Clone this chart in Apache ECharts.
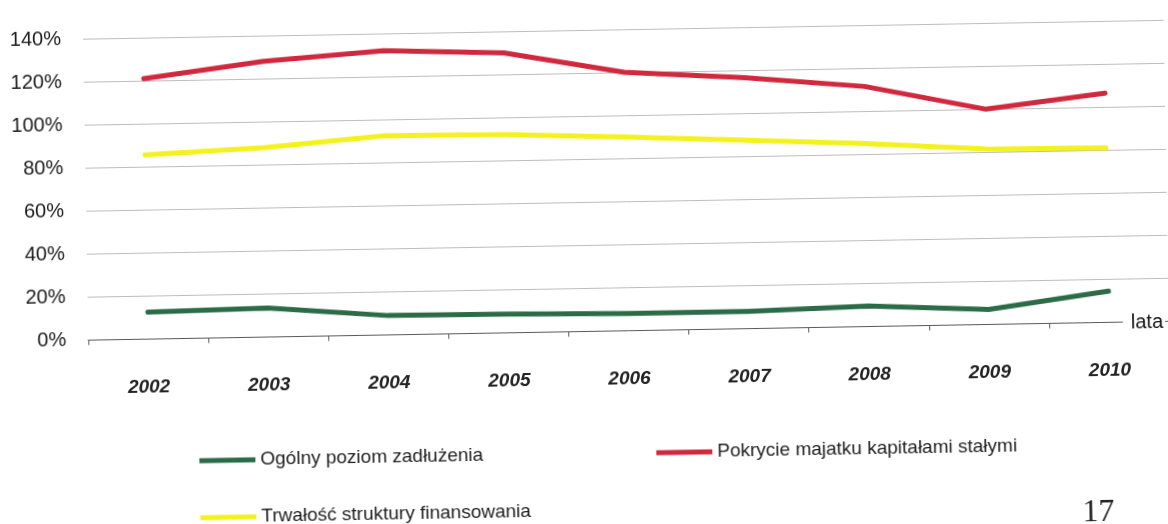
<!DOCTYPE html>
<html>
<head>
<meta charset="utf-8">
<script src="https://cdn.jsdelivr.net/npm/echarts@6/dist/echarts.min.js"></script>
<style>
  html, body { margin: 0; padding: 0; background: #fff; overflow: hidden; width: 1168px; height: 524px; }
  #chart { position: absolute; left: 0; top: 0; width: 1168px; height: 560px;
           transform-origin: 584px 262px; transform: rotate(-1deg); }
</style>
</head>
<body>
<div id="chart"></div>
<script>
// Years on the category axis
const years = ['2002', '2003', '2004', '2005', '2006', '2007', '2008', '2009', '2010'];

// Indicator values, in percent
const ogolnyPoziomZadluzenia = [12.5, 13.5, 9, 8.7, 8, 8, 9.5, 7, 14.5];
const pokrycieMajatku = [121, 128, 132, 130, 120, 116.5, 111.5, 100, 106.5];
const trwaloscStruktury = [85.5, 88, 92.5, 92, 90, 87.5, 85, 81.5, 81];

// Series names as shown in the legend
const names = [
  'Ogólny poziom zadłużenia',
  'Pokrycie majatku kapitałami stałymi',
  'Trwałość struktury finansowania'
];

// Value axis scale
const yMin = 0, yMax = 140, yStep = 20;

const FONT = '"Liberation Sans", Arial, sans-serif';
const colors = ['#2c6b48', '#d0283d', '#f3f11e'];

const chart = echarts.init(document.getElementById('chart'), null, { renderer: 'canvas' });

function lineSeries(name, data, color) {
  return {
    name, type: 'line', data,
    showSymbol: false, symbol: 'none',
    lineStyle: { color, width: 5, cap: 'round', join: 'round' },
    itemStyle: { color },
    emphasis: { disabled: true },
    animation: false
  };
}

function legendAt(name, left, top) {
  return {
    data: [name], left, top, padding: 0,
    icon: 'rect', itemWidth: 56, itemHeight: 5,
    textStyle: { fontFamily: FONT, fontSize: 19, color: '#1e1e1e', lineHeight: 20 },
    selectedMode: false
  };
}

chart.setOption({
  backgroundColor: '#fff',
  animation: false,
  grid: { left: 87, right: 0, top: 30, bottom: 228.5, containLabel: false },
  title: [{
    text: 'lata', right: 4, top: 321,
    padding: [1, 2, 1, 8], backgroundColor: '#fff',
    textStyle: { fontFamily: FONT, fontSize: 20, fontWeight: 'normal', color: '#151515' }
  }],
  legend: [
    legendAt(names[0], 196, 444),
    legendAt(names[1], 653, 444),
    legendAt(names[2], 196, 501)
  ],
  xAxis: {
    type: 'category', data: years, boundaryGap: true,
    axisLine: { show: true, lineStyle: { color: '#5a5a5a', width: 1 } },
    axisTick: { show: true, length: 5, lineStyle: { color: '#5a5a5a' } },
    axisLabel: {
      margin: 39, fontFamily: FONT, fontSize: 19,
      fontWeight: 'bold', fontStyle: 'italic', color: '#222'
    },
    splitLine: { show: false }
  },
  yAxis: {
    type: 'value', min: yMin, max: yMax, interval: yStep,
    axisLine: { show: false }, axisTick: { show: false },
    axisLabel: {
      margin: 22, fontFamily: FONT, fontSize: 20, color: '#1a1a1a',
      formatter: '{value}%'
    },
    splitLine: { show: true, lineStyle: { color: '#bdbdbd', width: 1 } }
  },
  graphic: [{
    type: 'text', right: 58, top: 506,
    style: { text: '17', font: '32px "Liberation Serif", "Times New Roman", serif', fill: '#222' }
  }],
  series: [
    lineSeries(names[0], ogolnyPoziomZadluzenia, colors[0]),
    lineSeries(names[1], pokrycieMajatku, colors[1]),
    lineSeries(names[2], trwaloscStruktury, colors[2])
  ]
});
</script>
</body>
</html>
